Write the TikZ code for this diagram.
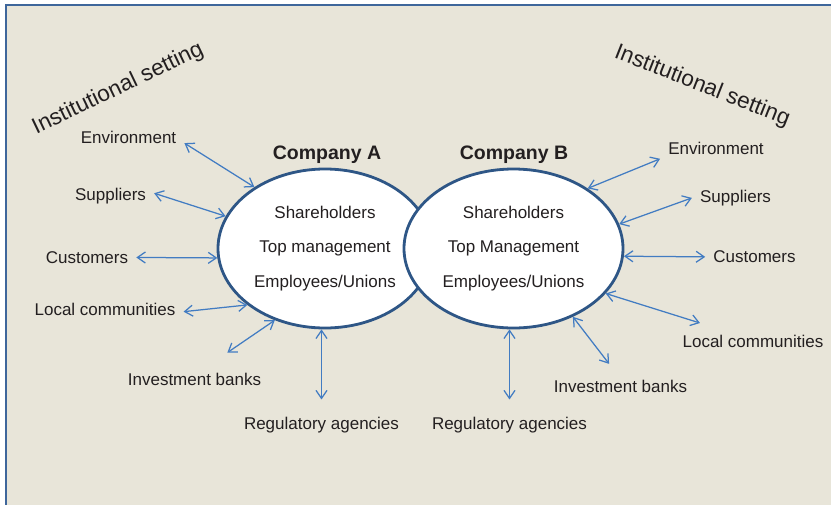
\documentclass[tikz,border=0pt]{standalone}
\usepackage{fontspec}
\setmainfont{Liberation Sans}
\usetikzlibrary{arrows.meta,shapes.geometric}
\definecolor{sand}{RGB}{232,229,217}
\definecolor{frameblue}{RGB}{62,102,155}
\definecolor{ovalblue}{RGB}{46,86,134}
\definecolor{linkblue}{RGB}{66,124,194}
\definecolor{ink}{RGB}{35,31,32}

\begin{document}
\begin{tikzpicture}[x=1pt,y=-1pt,
  tag/.style={font=\fontsize{17}{20}\selectfont,text=ink,inner sep=8pt,anchor=base},
  firm/.style={ellipse,draw=ovalblue,line width=2.8pt,fill=white,inner sep=0pt,
    font=\fontsize{17}{34.4}\selectfont,text=ink,align=center},
  link/.style={draw=linkblue,line width=1.25pt,
    {Straight Barb[length=8pt,width=11pt]}-{Straight Barb[length=8pt,width=11pt]}}]
  \useasboundingbox (0,0) rectangle (831,504);
  \clip (0,0) rectangle (831,504);
  % panel
  \fill[sand] (6,5) rectangle (845,520);
  \draw[frameblue,line width=2.5pt] (6,5) rectangle (845,520);
  % the two companies, B on top of A
  \node[firm,minimum width=214pt,minimum height=159pt] (A) at (325,248.5)
    {Shareholders\\Top management\\Employees/Unions};
  \node[firm,minimum width=219pt,minimum height=159pt] (B) at (513.5,248.5)
    {Shareholders\\Top Management\\Employees/Unions};
  \node[tag,font=\bfseries\fontsize{19.5}{22}\selectfont] (nameA) at (327,159.3) {Company A};
  \node[tag,font=\bfseries\fontsize{19.5}{22}\selectfont] (nameB) at (514,159.3) {Company B};
  \node[tag,font=\fontsize{22.5}{26}\selectfont,rotate=25.5] (instA) at (120.5,94) {Institutional setting};
  \node[tag,font=\fontsize{22.5}{26}\selectfont,rotate=-21.5] (instB) at (700,91.5) {Institutional setting};
  % stakeholders
  \foreach \name/\x/\y/\txt in {envA/128.5/143.3/Environment, supA/110.5/200.7/Suppliers,
      cusA/87/263.3/Customers, locA/105/315/Local communities, invA/194.5/385/Investment banks,
      regA/321.5/429/Regulatory agencies, regB/509.5/429/Regulatory agencies,
      invB/620.5/392.7/Investment banks, locB/753/347.7/Local communities,
      cusB/754.5/262.7/Customers, supB/735.5/202.3/Suppliers, envB/716/154/Environment}
    \node[tag] (\name) at (\x,\y) {\txt};
  % links
  \foreach \from/\to/\cut in {A.139/envA.354/0, A.162/supA.4/0, A.185/cusA.east/0,
      A.216/locA.358/0, A.235/invA.43/21, B.39/envB.191/0, B.13/supB.west/0,
      B.356/cusB.west/0, B.334/locB.160/14, B.311/invB.109/10.5}
    \draw[link,shorten >=\cut pt] (\from) -- (\to);
  \draw[link,shorten >=9pt] (regA.north |- A.south) -- (regA.north);
  \draw[link,shorten >=9pt] (regB.north |- B.south) -- (regB.north);
\end{tikzpicture}
\end{document}
